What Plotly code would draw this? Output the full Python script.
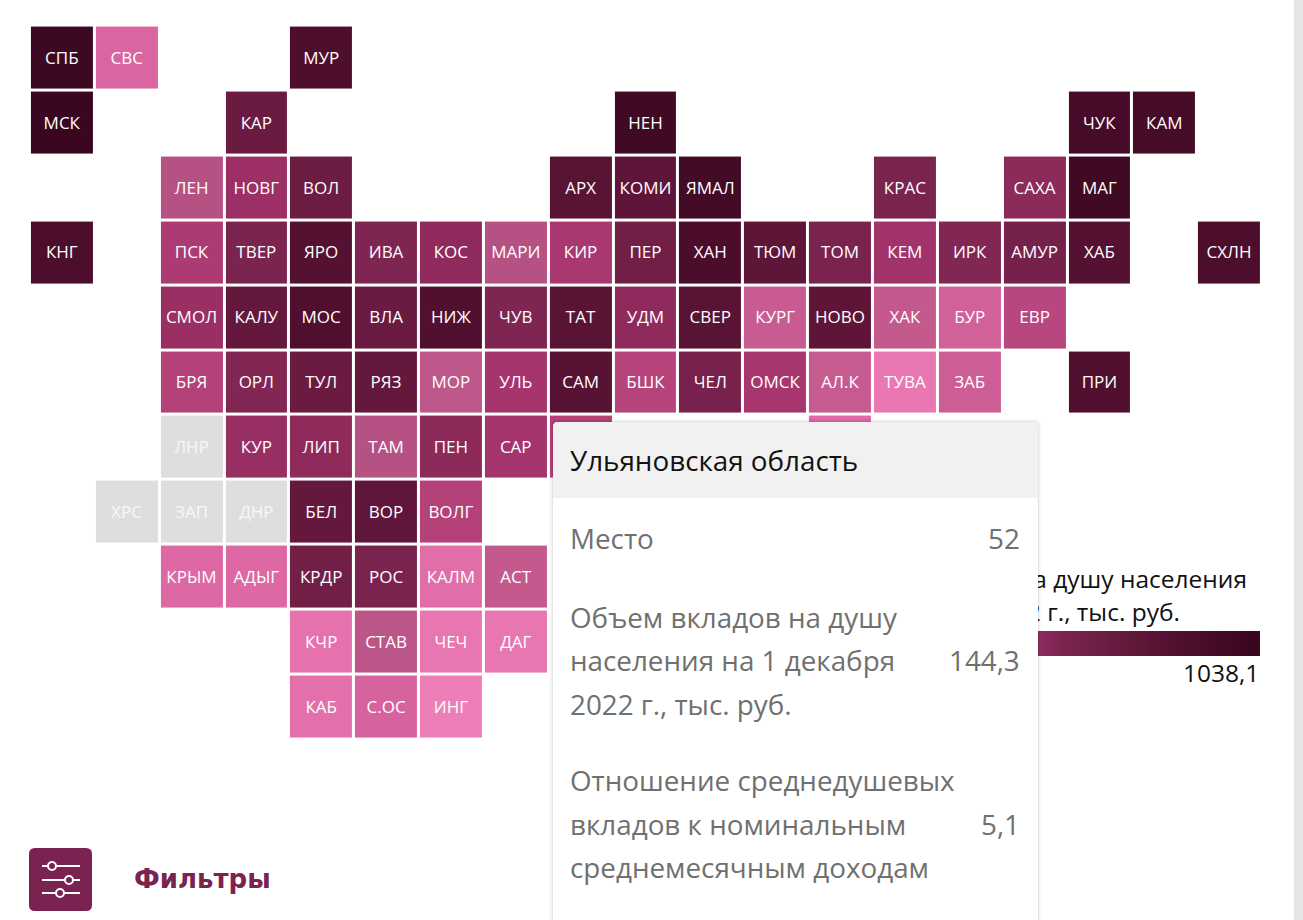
import plotly.graph_objects as go

# ---- data ----
labels = [
 ["СПБ","СВС",None,None,"МУР",None,None,None,None,None,None,None,None,None,None,None,None,None,None],
 ["МСК",None,None,"КАР",None,None,None,None,None,"НЕН",None,None,None,None,None,None,"ЧУК","КАМ",None],
 [None,None,"ЛЕН","НОВГ","ВОЛ",None,None,None,"АРХ","КОМИ","ЯМАЛ",None,None,"КРАС",None,"САХА","МАГ",None,None],
 ["КНГ",None,"ПСК","ТВЕР","ЯРО","ИВА","КОС","МАРИ","КИР","ПЕР","ХАН","ТЮМ","ТОМ","КЕМ","ИРК","АМУР","ХАБ",None,"СХЛН"],
 [None,None,"СМОЛ","КАЛУ","МОС","ВЛА","НИЖ","ЧУВ","ТАТ","УДМ","СВЕР","КУРГ","НОВО","ХАК","БУР","ЕВР",None,None,None],
 [None,None,"БРЯ","ОРЛ","ТУЛ","РЯЗ","МОР","УЛЬ","САМ","БШК","ЧЕЛ","ОМСК","АЛ.К","ТУВА","ЗАБ",None,"ПРИ",None,None],
 [None,None,"ЛНР","КУР","ЛИП","ТАМ","ПЕН","САР",None,None,None,None,None,None,None,None,None,None,None],
 [None,"ХРС","ЗАП","ДНР","БЕЛ","ВОР","ВОЛГ",None,None,None,None,None,None,None,None,None,None,None,None],
 [None,None,"КРЫМ","АДЫГ","КРДР","РОС","КАЛМ","АСТ",None,None,None,None,None,None,None,None,None,None,None],
 [None,None,None,None,"КЧР","СТАВ","ЧЕЧ","ДАГ",None,None,None,None,None,None,None,None,None,None,None],
 [None,None,None,None,"КАБ","С.ОС","ИНГ",None,None,None,None,None,None,None,None,None,None,None,None],
]
N = None
deposits = [
 [900,92,N,N,400,N,N,N,N,N,N,N,N,N,N,N,N,N,N],
 [1038.1,N,N,240,N,N,N,N,N,800,N,N,N,N,N,N,550,600,N],
 [N,N,120,155,235,N,N,N,320,290,620,N,N,205,N,175,800,N,N],
 [420,N,135,200,340,195,170,120,140,225,450,300,205,150,190,215,340,N,420],
 [N,N,158,260,380,240,350,195,320,170,320,108,295,112,100,125,N,N,N],
 [N,N,130,190,240,265,115,144.3,325,128,212,142,110,68,105,N,370,N,N],
 [N,N,N,160,172,120,175,145,130,N,N,N,85,N,N,N,N,N,N],
 [N,N,N,N,265,285,130,N,N,N,N,N,N,N,N,N,N,N,N],
 [N,N,88,88,225,205,80,112,N,N,N,N,N,N,N,N,N,N,N],
 [N,N,N,N,75,116,70,70,N,N,N,N,N,N,N,N,N,N,N],
 [N,N,N,N,77,95,62,N,N,N,N,N,N,N,N,N,N,N,N],
]
no_data = ["ЛНР", "ХРС", "ЗАП", "ДНР"]

scale_values = [60, 70, 90, 110, 120, 125, 130, 135, 145, 170, 200, 250, 350, 500, 1038.1]
scale_colors = ["#ee80ba","#e876b0","#dc66a2","#c65b90","#b65283","#b9477f","#b44278","#ad3b73","#a5346d",
                "#8f2b5c","#7c2450","#67193f","#521030","#470c29","#3a0620"]

legend_title = ["Объем вкладов на душу населения", "на 1 декабря 2022 г., тыс. руб."]
legend_max = "1038,1"
legend_ramp = [0, 1, 2, 3, 4, 5, 6, 7, 8, 9, 10, 11, 12, 13, 14, 15, 16, 17, 18]
legend_colors = ["#ee80ba","#d0629a","#b04078","#7c2450","#641a3d","#4e0f2d","#3a0620"]

tooltip_title = "Ульяновская область"
tooltip_rows = [
 (["Место"], "52"),
 (["Объем вкладов на душу", "населения на 1 декабря", "2022 г., тыс. руб."], "144,3"),
 (["Отношение среднедушевых", "вкладов к номинальным", "среднемесячным доходам"], "5,1"),
]
filter_label = "Фильтры"

# ---- page geometry ----
W, H = 1303, 920
PX, PY = 64.85, 64.9
X0, Y0 = 62.3, 58.0
LABEL_DX, LABEL_DY = -0.5 / PX, 1.5 / PY
FONT = "Open Sans"

cmin, cmax = scale_values[0], scale_values[-1]
colorscale = [[(v - cmin) / (cmax - cmin), c] for v, c in zip(scale_values, scale_colors)]

n_rows, n_cols = len(labels), len(labels[0])
cols = list(range(n_cols))
rows = list(range(n_rows))
grey_z = [[1 if lab in no_data else None for lab in r] for r in labels]

fig = go.Figure()
fig.add_trace(go.Heatmap(
    z=deposits, x=cols, y=rows,
    colorscale=colorscale, zmin=cmin, zmax=cmax, xgap=3, ygap=3,
    showscale=False, hoverinfo="skip", xaxis="x", yaxis="y"))
fig.add_trace(go.Heatmap(
    z=grey_z, x=cols, y=rows,
    colorscale=[[0, "#dedede"], [1, "#dedede"]], xgap=3, ygap=3,
    showscale=False, hoverinfo="skip", xaxis="x", yaxis="y"))

cells = [(c, r, labels[r][c]) for r in rows for c in cols if labels[r][c]]
fig.add_trace(go.Scatter(
    x=[c + LABEL_DX for c, r, s in cells], y=[r + LABEL_DY for c, r, s in cells], text=[s for c, r, s in cells],
    mode="text", textposition="middle center",
    textfont=dict(family=FONT, size=17,
                  color=["rgba(255,255,255,0.8)" if s in no_data else "white" for c, r, s in cells]),
    hoverinfo="skip", showlegend=False, xaxis="x", yaxis="y"))

# legend (pixel overlay axes)
LX0, LX1 = 862, 1259.6
LY0, LY1 = 631, 656
n_l = len(legend_ramp)
step = (LX1 - LX0) / n_l
h = (LY1 - LY0) / 2
fig.add_trace(go.Heatmap(
    z=[legend_ramp, legend_ramp], x=[LX0 + (i + 0.5) * step for i in range(n_l)],
    y=[LY0 + h / 2, LY1 - h / 2],
    zsmooth="best",
    colorscale=[[i / (len(legend_colors) - 1), c] for i, c in enumerate(legend_colors)],
    showscale=False, hoverinfo="skip", xaxis="x2", yaxis="y2"))
fig.add_trace(go.Scatter(
    x=[1247, 1180], y=[581.5, 615], mode="text", text=legend_title,
    textposition="middle left", textfont=dict(family=FONT, size=24.5, color="#111"),
    hoverinfo="skip", showlegend=False, xaxis="x2", yaxis="y2"))

def rrect(x0, y0, x1, y1, r, bottom=True):
    rb = r if bottom else 0
    return (f"M{x0+r},{y0} L{x1-r},{y0} Q{x1},{y0} {x1},{y0+r} L{x1},{y1-rb} Q{x1},{y1} {x1-rb},{y1} "
            f"L{x0+rb},{y1} Q{x0},{y1} {x0},{y1-rb} L{x0},{y0+r} Q{x0},{y0} {x0+r},{y0} Z")

shapes = []
# scrollbar track at the right page edge
shapes.append(dict(type="rect", xref="x2", yref="y2", x0=1294, x1=W, y0=0, y1=H,
                   fillcolor="#e6e6e6", line_width=0, layer="above"))
# tooltip shadow, body, header
for d, a in [(4, 0.02), (2, 0.03), (1, 0.05)]:
    shapes.append(dict(type="path", xref="x2", yref="y2", path=rrect(553-d, 422-d, 1038+d, 930, 6),
                       fillcolor=f"rgba(0,0,0,{a})", line_width=0, layer="above"))
shapes.append(dict(type="path", xref="x2", yref="y2", path=rrect(553, 422, 1038, 930, 5),
                   fillcolor="white", line_width=0, layer="above"))
shapes.append(dict(type="path", xref="x2", yref="y2", path=rrect(553, 422, 1038, 498, 5, bottom=False),
                   fillcolor="#f1f1f1", line_width=0, layer="above"))
# filter icon
ICON = "#7a2250"
shapes.append(dict(type="path", xref="x2", yref="y2", path=rrect(29, 848, 92, 911, 6),
                   fillcolor=ICON, line_width=0, layer="above"))
for y, cx in [(866, 52), (880, 69), (893, 60)]:
    shapes.append(dict(type="line", xref="x2", yref="y2", x0=42, x1=80, y0=y, y1=y,
                       line=dict(color="white", width=2), layer="above"))
    shapes.append(dict(type="circle", xref="x2", yref="y2", x0=cx-4, x1=cx+4, y0=y-4, y1=y+4,
                       fillcolor=ICON, line=dict(color="white", width=2), layer="above"))

ann = []
def txt(x, y, s, size, color, anchor="left", family=FONT, weight=None):
    ann.append(dict(x=x, y=y, xref="x2", yref="y2", text=s, showarrow=False, xanchor=anchor, yanchor="middle",
                    font=dict(family=family, size=size, color=color, weight=weight), align=anchor))

txt(1261, 672.5, legend_max, 24.5, "#111", "right")
txt(568, 460, tooltip_title, 27.8, "#111")
GREY = "#707070"
LH = 43.5
y_positions = [537.5, 616.5, 780]
for (lines, val), y in zip(tooltip_rows, y_positions):
    for i, line in enumerate(lines):
        txt(568, y + i * LH, line, 27.8, GREY)
    txt(1022, y + (len(lines) - 1) * LH / 2, val, 27.8, GREY, "right")
txt(132, 879, filter_label, 26, ICON, "left", "DejaVu Sans", 700)

axis = dict(visible=False, showgrid=False, zeroline=False, fixedrange=True)
fig.update_layout(
    width=W, height=H, margin=dict(l=0, r=0, t=0, b=0),
    paper_bgcolor="white", plot_bgcolor="white", showlegend=False,
    xaxis=dict(axis, range=[-X0 / PX, (W - X0) / PX], domain=[0, 1]),
    yaxis=dict(axis, range=[(H - Y0) / PY, -Y0 / PY], domain=[0, 1]),
    xaxis2=dict(axis, range=[0, W], domain=[0, 1], overlaying="x", anchor="y2"),
    yaxis2=dict(axis, range=[H, 0], domain=[0, 1], overlaying="y", anchor="x2"),
    shapes=shapes, annotations=ann,
)
fig.write_html("out.html", config={"displayModeBar": False},
               post_script="document.body.style.margin='0';document.body.style.overflow='hidden';")
